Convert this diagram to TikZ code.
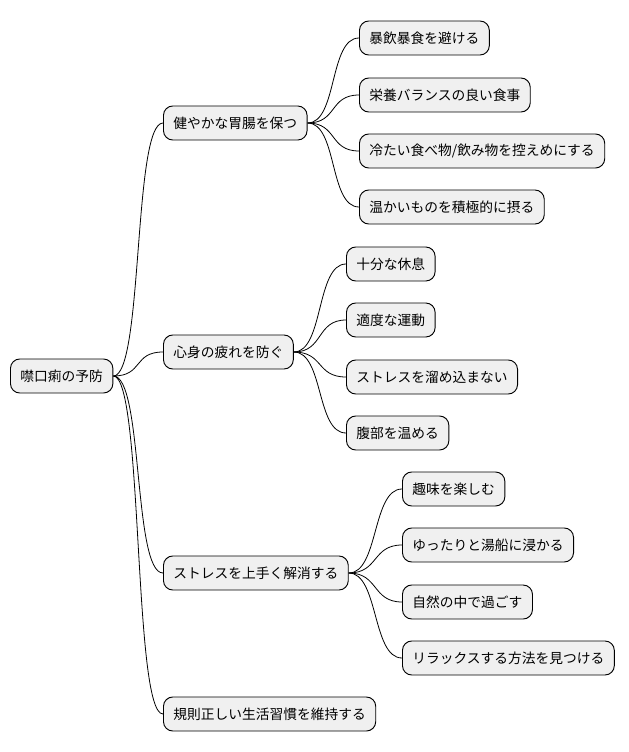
\documentclass[tikz,border=0pt]{standalone}
\usepackage{fontspec}
\newfontfamily\cjk{Noto Sans CJK JP}
\usetikzlibrary{positioning}
\tikzset{
  topic/.style={draw=black,fill=black!6,rounded corners=7pt,anchor=west,
    font=\cjk\fontsize{10.3}{12}\selectfont,minimum height=25.5pt,inner xsep=7.5pt,line width=0.7pt},
  branch/.style={line width=0.6pt}
}
\newcommand{\link}[2]{\draw[branch] (#1.east) .. controls +(30,0) and +(-30,0) .. (#2.west);}
\begin{document}
\begin{tikzpicture}[x=0.75pt,y=-0.75pt]
    \useasboundingbox (0,0) rectangle (628,752);

    % root and first level
    \node[topic] (root) at (10,376) {噤口痢の予防};
    \node[topic] (gut) at (163,123) {健やかな胃腸を保つ};
    \node[topic] (tired) at (163,352) {心身の疲れを防ぐ};
    \node[topic] (stress) at (163,573) {ストレスを上手く解消する};
    \node[topic] (habit) at (163,714) {規則正しい生活習慣を維持する};

    % second level
    \node[topic] (g1) at (359,38) {暴飲暴食を避ける};
    \node[topic] (g2) at (359,95) {栄養バランスの良い食事};
    \node[topic] (g3) at (359,151) {冷たい食べ物/飲み物を控えめにする};
    \node[topic] (g4) at (359,207) {温かいものを積極的に摂る};

    \node[topic] (t1) at (346,264) {十分な休息};
    \node[topic] (t2) at (346,320) {適度な運動};
    \node[topic] (t3) at (346,377) {ストレスを溜め込まない};
    \node[topic] (t4) at (346,433) {腹部を温める};

    \node[topic] (s1) at (402,489) {趣味を楽しむ};
    \node[topic] (s2) at (402,545) {ゆったりと湯船に浸かる};
    \node[topic] (s3) at (402,602) {自然の中で過ごす};
    \node[topic] (s4) at (402,658) {リラックスする方法を見つける};

    \foreach \c in {gut,tired,stress,habit} {\link{root}{\c}}
    \foreach \c in {g1,g2,g3,g4} {\link{gut}{\c}}
    \foreach \c in {t1,t2,t3,t4} {\link{tired}{\c}}
    \foreach \c in {s1,s2,s3,s4} {\link{stress}{\c}}
\end{tikzpicture}
\end{document}
